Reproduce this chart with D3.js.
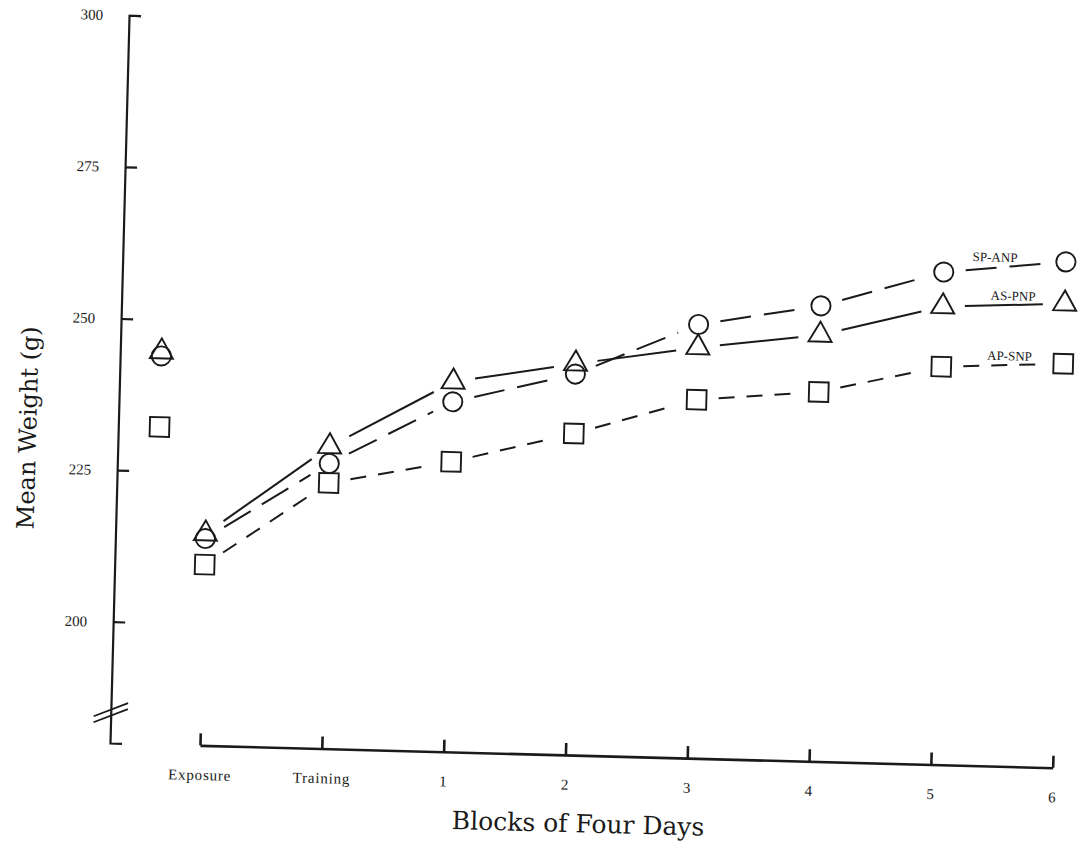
<!DOCTYPE html>
<html>
<head>
<meta charset="utf-8">
<script src="https://cdn.jsdelivr.net/npm/d3@7"></script>
<style>
  body { margin: 0; background: #fff; }
  .tick text { font-family: "Liberation Serif", serif; fill: #1a1a1a; }
  .axisLb { font-family: "DejaVu Serif", serif; fill: #1a1a1a; text-anchor: middle; }
  .grpLb { font-family: "Liberation Serif", serif; font-size: 13px; fill: #1a1a1a; text-anchor: middle; }
</style>
</head>
<body>
<div id="main"></div>
<script>
// block labels on the x axis (the first weighing, pre-exposure, has no label)
const blockLabels = ["Exposure", "Training", "1", "2", "3", "4", "5", "6"];
// x position of each weighing, in block units (0 = Exposure)
const blockPos = [-0.4, 0, 1, 2, 3, 4, 5, 6, 7];
const weightTicks = [200, 225, 250, 275, 300];

// mean weight (g) of each group
const groupNames = ["SP-ANP", "AS-PNP", "AP-SNP"];
const spAnp = [244.0, 214.1, 227.0, 237.7, 242.8, 251.5, 255.1, 261.2, 263.4];
const asPnp = [244.7, 214.9, 229.8, 241.0, 244.5, 247.7, 250.3, 255.5, 256.5];
const apSnp = [232.3, 209.8, 223.8, 227.8, 233.0, 239.1, 240.9, 245.6, 246.6];

const ctx = {
    w: 1078,
    h: 857,
    INK: "#1a1a1a",
    GAP: 22,      // lines stop short of the markers
    TILT: 1.5,    // the scanned page is slightly skewed
};

// one entry per group: symbol, line dashes, label nudge
const groups = [
    {name: groupNames[0], values: spAnp, symbol: d3.symbolCircle, size: 290, dash: "31,13", dx: -10},
    {name: groupNames[1], values: asPnp, symbol: d3.symbolTriangle, size: 230, dash: null, dx: 9},
    {name: groupNames[2], values: apSnp, symbol: d3.symbolSquare, size: 380, dash: "16,12", dx: 7},
];

function initSVGcanvas(){
    ctx.xScale = d3.scaleLinear().domain([0, 7]).range([200, 1053]);
    ctx.yScale = d3.scaleLinear().domain([180, 300]).range([743, 15]);

    let bkg = d3.select("#bkgG");
    // y axis, ticks pointing inward
    let yAx = bkg.append("g")
      .attr("transform", `translate(${ctx.xScale.range()[0] - 90},0)`)
      .call(d3.axisLeft(ctx.yScale).tickValues(weightTicks)
              .tickSizeInner(-12).tickSizeOuter(-12).tickPadding(26));
    yAx.selectAll("text").style("font-size", "15px");
    yAx.selectAll(".domain, .tick line").style("stroke-width", 2.2);
    // x axis, ticks pointing up
    let xAx = bkg.append("g")
      .attr("transform", `translate(0,${ctx.yScale.range()[0]})`)
      .call(d3.axisBottom(ctx.xScale).tickValues(d3.range(blockLabels.length))
              .tickFormat((i) => blockLabels[i])
              .tickSizeInner(-12).tickSizeOuter(0).tickPadding(24));
    xAx.selectAll("text").style("font-size", "15px").style("letter-spacing", "0.8px");
    xAx.selectAll(".domain, .tick line").style("stroke-width", 2.6);
    bkg.selectAll(".domain, .tick line").style("stroke", ctx.INK);

    // axis break marks
    let bx = ctx.xScale.range()[0] - 90, by = ctx.yScale(185);
    [-3, 3].forEach(function(o){
        bkg.append("line")
          .attr("x1", bx - 17).attr("y1", by + o + 7)
          .attr("x2", bx + 17).attr("y2", by + o - 7)
          .style("stroke", ctx.INK)
          .style("stroke-width", 1.8);
    });

    // axis labels
    bkg.append("text")
      .attr("transform", "translate(28,430) rotate(-90)")
      .classed("axisLb", true)
      .style("font-size", "24px")
      .text("Mean Weight (g)");
    bkg.append("text")
      .attr("x", 580)
      .attr("y", 820)
      .classed("axisLb", true)
      .style("font-size", "25px")
      .text("Blocks of Four Days");
}

function populateSVGcanvas(){
    let dataG = d3.select("#dataG");
    groups.forEach(function(g){
        let pts = g.values.map((v, i) => [ctx.xScale(blockPos[i]), ctx.yScale(v)]);
        let gG = dataG.append("g");
        // connecting lines from Exposure on, stopping short of the markers
        for (let i = 1; i < pts.length - 1; i++){
            let [x1, y1] = pts[i], [x2, y2] = pts[i + 1];
            let len = Math.hypot(x2 - x1, y2 - y1);
            let ux = (x2 - x1) / len, uy = (y2 - y1) / len;
            gG.append("line")
              .attr("x1", x1 + ux * ctx.GAP).attr("y1", y1 + uy * ctx.GAP)
              .attr("x2", x2 - ux * ctx.GAP).attr("y2", y2 - uy * ctx.GAP)
              .style("stroke", ctx.INK)
              .style("stroke-width", 2)
              .style("stroke-dasharray", g.dash);
        }
        gG.selectAll("path")
          .data(pts)
          .enter()
          .append("path")
          .attr("d", d3.symbol().type(g.symbol).size(g.size)())
          .attr("transform", (d) => `translate(${d[0]},${d[1]})`)
          .style("fill", "none")
          .style("stroke", ctx.INK)
          .style("stroke-width", 1.9);
        // group name above the last segment
        let a = pts[pts.length - 2], b = pts[pts.length - 1];
        gG.append("text")
          .classed("grpLb", true)
          .attr("x", (a[0] + b[0]) / 2 + g.dx)
          .attr("y", (a[1] + b[1]) / 2 - 5)
          .text(g.name);
    });
}

function createViz(){
    let svgEl = d3.select("#main").append("svg");
    svgEl.attr("width", ctx.w);
    svgEl.attr("height", ctx.h);
    let rootG = svgEl.append("g")
      .attr("id", "rootG")
      .attr("transform", `rotate(${ctx.TILT},110,743)`);
    rootG.append("g").attr("id", "bkgG");
    rootG.append("g").attr("id", "dataG");
    initSVGcanvas();
    populateSVGcanvas();
}

createViz();
</script>
</body>
</html>
